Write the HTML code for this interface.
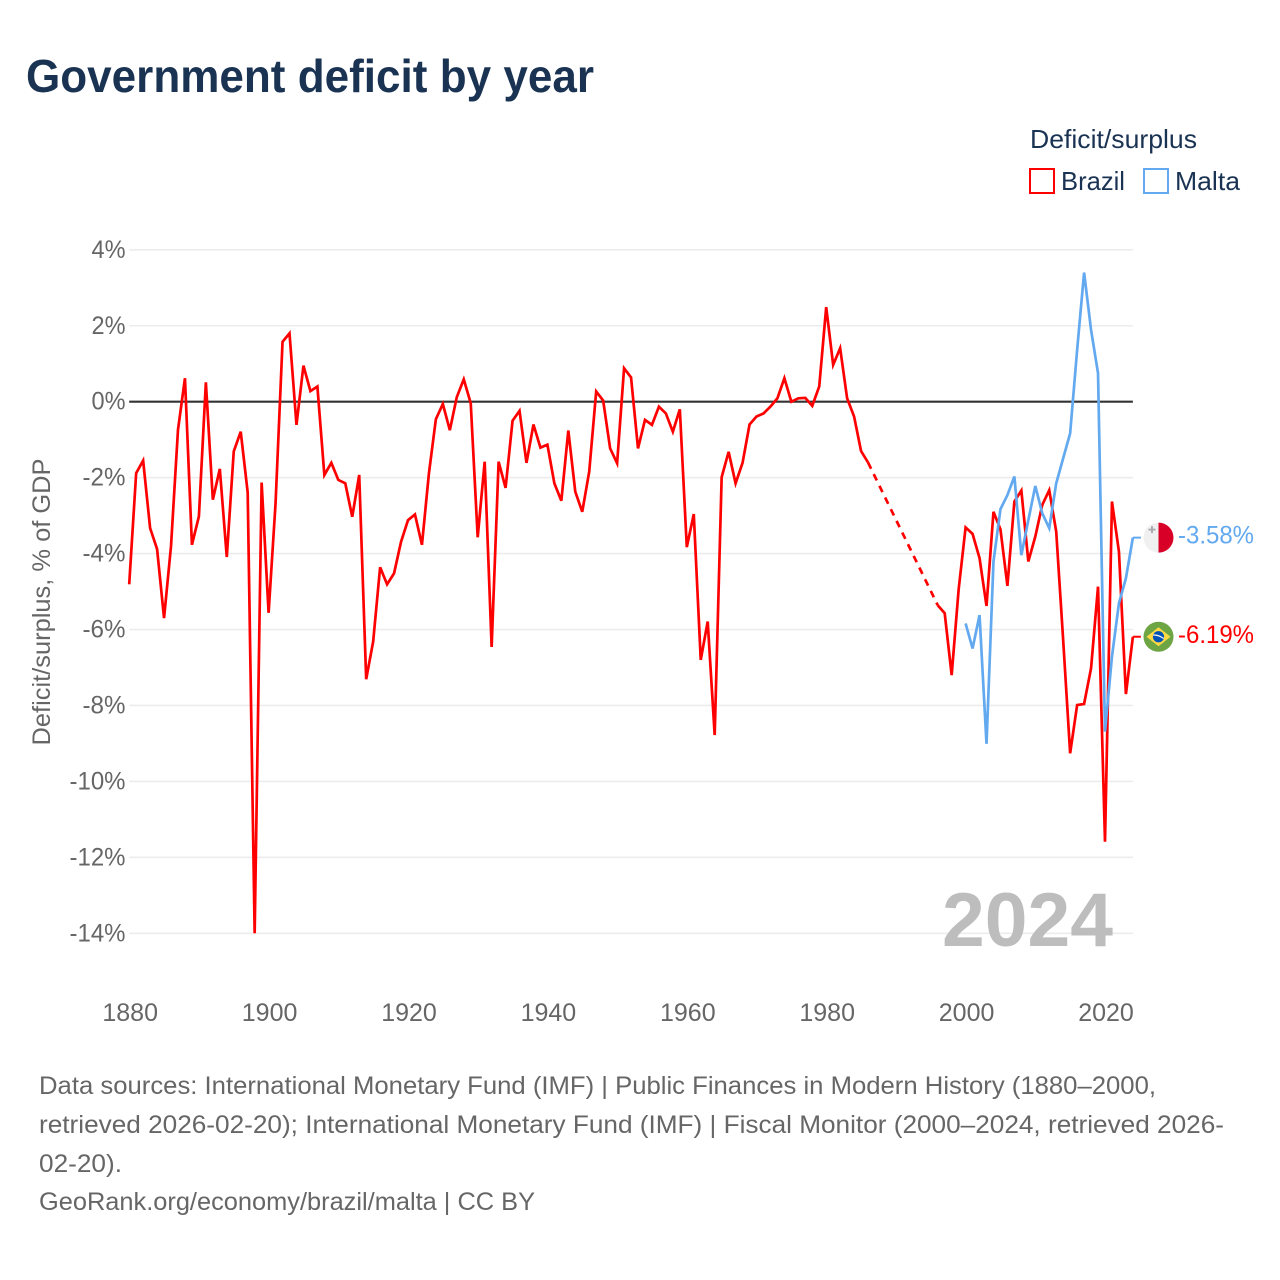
<!DOCTYPE html>
<html lang="en">
<head>
<meta charset="utf-8">
<title>Government deficit by year</title>
<style>
html,body{margin:0;padding:0;background:#fff;}
svg{display:block;}
text{font-family:"Liberation Sans",sans-serif;}
</style>
</head>
<body>
<svg id="chart" xmlns="http://www.w3.org/2000/svg" width="1280" height="1280" viewBox="0 0 1280 1280">
  <rect x="0" y="0" width="1280" height="1280" fill="#ffffff"/>
  <text x="26" y="92" font-size="46" font-weight="700" fill="#1a3353" textLength="568" lengthAdjust="spacingAndGlyphs">Government deficit by year</text>

  <text x="1030" y="148" font-size="26" fill="#1a3353" textLength="167" lengthAdjust="spacingAndGlyphs">Deficit/surplus</text>
  <g>
    <rect x="1030" y="169" width="24" height="24" fill="none" stroke="#ff0000" stroke-width="2"/>
    <text x="1061" y="190" font-size="26" fill="#1a3353" textLength="64" lengthAdjust="spacingAndGlyphs">Brazil</text>
  </g>
  <g>
    <rect x="1144" y="169" width="24" height="24" fill="none" stroke="#62a9ef" stroke-width="2"/>
    <text x="1175" y="190" font-size="26" fill="#1a3353" textLength="65" lengthAdjust="spacingAndGlyphs">Malta</text>
  </g>

  <text transform="translate(50,602) rotate(-90)" text-anchor="middle" font-size="25" fill="#666666" textLength="287" lengthAdjust="spacingAndGlyphs">Deficit/surplus, % of GDP</text>

  <g id="grid"></g>
  <g id="yticks"></g>
  <g id="xticks"></g>

  <text x="1113" y="946" text-anchor="end" font-size="76" font-weight="700" fill="#bdbdbd" textLength="171" lengthAdjust="spacingAndGlyphs">2024</text>

  <g id="series"></g>
  <g id="labels"></g>

  <g font-size="25" fill="#666666">
    <text x="39" y="1094" textLength="1117" lengthAdjust="spacingAndGlyphs">Data sources: International Monetary Fund (IMF) | Public Finances in Modern History (1880–2000,</text>
    <text x="39" y="1133" textLength="1185" lengthAdjust="spacingAndGlyphs">retrieved 2026-02-20); International Monetary Fund (IMF) | Fiscal Monitor (2000–2024, retrieved 2026-</text>
    <text x="39" y="1172" textLength="83" lengthAdjust="spacingAndGlyphs">02-20).</text>
    <text x="39" y="1210" textLength="496" lengthAdjust="spacingAndGlyphs">GeoRank.org/economy/brazil/malta | CC BY</text>
  </g>
</svg>
<script>
const yTickValues = [4, 2, 0, -2, -4, -6, -8, -10, -12, -14];
const xTickYears = [1880, 1900, 1920, 1940, 1960, 1980, 2000, 2020];
const brazilFirstYear = 1880;
const maltaFirstYear = 2000;
const brazilValues = [
  -4.81, -1.88, -1.55, -3.33, -3.88, -5.70, -3.80, -0.74, 0.62, -3.77,
  -3.02, 0.51, -2.58, -1.77, -4.09, -1.31, -0.79, -2.39, -14.0, -2.13,
  -5.56, -2.67, 1.58, 1.80, -0.61, 0.95, 0.28, 0.40, -1.93, -1.61,
  -2.06, -2.15, -3.03, -1.93, -7.31, -6.32, -4.36, -4.81, -4.52, -3.69,
  -3.12, -2.97, -3.77, -1.89, -0.46, -0.06, -0.75, 0.12, 0.59, -0.04,
  -3.57, -1.58, -6.46, -1.58, -2.27, -0.50, -0.24, -1.61, -0.60, -1.21,
  -1.13, -2.15, -2.61, -0.76, -2.37, -2.90, -1.84, 0.27, 0.03, -1.23,
  -1.62, 0.88, 0.64, -1.23, -0.48, -0.61, -0.13, -0.31, -0.79, -0.20,
  -3.83, -2.96, -6.80, -5.79, -8.78, -1.99, -1.32, -2.15, -1.61, -0.60,
  -0.39, -0.31, -0.13, 0.09, 0.62, 0.0, 0.09, 0.10, -0.11, 0.40,
  2.49, 0.97, 1.41, 0.09, -0.39, -1.30, -1.60, null, null, null,
  null, null, null, null, null, null, -5.36, -5.57, -7.20, -4.95,
  -3.31, -3.48, -4.12, -5.38, -2.90, -3.36, -4.85, -2.63, -2.34, -4.21,
  -3.55, -2.72, -2.33, -3.42, -6.28, -9.26, -7.99, -7.96, -7.02, -4.87,
  -11.59, -2.63, -3.95, -7.70, -6.19
];
const maltaValues = [
  -5.84, -6.50, -5.62, -9.01, -4.21, -2.83, -2.46, -1.97, -4.04, -3.12,
  -2.22, -2.94, -3.33, -2.15, -1.49, -0.83, 1.36, 3.40, 1.89, 0.75,
  -8.69, -6.71, -5.31, -4.65, -3.58
];

const NS = 'http://www.w3.org/2000/svg';
const RED = '#ff0000';
const BLUE = '#62a9ef';
function xScale(year) { return 129.2 + (year - 1880) * 6.97; }
function yScale(value) { return 401.7 - value * 37.97; }
function make(tag) { return document.createElementNS(NS, tag); }

const grid = document.getElementById('grid');
const yticks = document.getElementById('yticks');
yTickValues.forEach(function (v) {
  const line = make('line');
  
  
  line.setAttribute('x1', xScale(1880));
  line.setAttribute('x2', xScale(2024));
  line.setAttribute('y1', yScale(v));
  line.setAttribute('y2', yScale(v));
  line.setAttribute('stroke', '#ececec');
  line.setAttribute('stroke-width', '1.6');
  grid.appendChild(line);

  const label = make('text');
  const tickText = v + '%';
  
  
  label.setAttribute('x', 125.5);
  label.setAttribute('y', yScale(v) + 8);
  label.setAttribute('text-anchor', 'end');
  label.setAttribute('font-size', '25');
  label.setAttribute('fill', '#666666');
  label.setAttribute('textLength', tickText.length === 2 ? '34' : tickText.length === 3 ? '43' : '56');
  label.setAttribute('lengthAdjust', 'spacingAndGlyphs');
  label.textContent = tickText;
  yticks.appendChild(label);
});

const xticks = document.getElementById('xticks');
xTickYears.forEach(function (year) {
  const label = make('text');
  
  
  label.setAttribute('x', xScale(year) + 1);
  label.setAttribute('y', 1021);
  label.setAttribute('text-anchor', 'middle');
  label.setAttribute('font-size', '25');
  label.setAttribute('fill', '#666666');
  label.textContent = String(year);
  xticks.appendChild(label);
});

const zero = make('line');


zero.setAttribute('x1', xScale(1880));
zero.setAttribute('x2', xScale(2024));
zero.setAttribute('y1', yScale(0));
zero.setAttribute('y2', yScale(0));
zero.setAttribute('stroke', '#333333');
zero.setAttribute('stroke-width', '2.2');
grid.appendChild(zero);

const seriesGroup = document.getElementById('series');

function buildPaths(values, firstYear) {
  let solid = '';
  let dashed = '';
  let last = null;
  let gap = false;
  values.forEach(function (v, i) {
    if (v === null) { gap = true; return; }
    const pt = xScale(firstYear + i).toFixed(2) + ' ' + yScale(v).toFixed(2);
    if (last === null) { solid += 'M' + pt; }
    else if (gap) { dashed += 'M' + last + 'L' + pt; solid += 'M' + pt; }
    else { solid += 'L' + pt; }
    last = pt;
    gap = false;
  });
  return { solid: solid, dashed: dashed, last: last };
}

function connector(values, firstYear) {
  const lastValue = values[values.length - 1];
  const lastYear = firstYear + values.length - 1;
  return 'M' + xScale(lastYear).toFixed(2) + ' ' + yScale(lastValue).toFixed(2) + 'H' + (xScale(lastYear) + 8).toFixed(2);
}

const brazilPaths = buildPaths(brazilValues, brazilFirstYear);
const maltaPaths = buildPaths(maltaValues, maltaFirstYear);

const brazilLine = make('path');


brazilLine.setAttribute('d', brazilPaths.solid);
brazilLine.setAttribute('fill', 'none');
brazilLine.setAttribute('stroke', RED);
brazilLine.setAttribute('stroke-width', '2.7');
brazilLine.setAttribute('stroke-linejoin', 'miter');
seriesGroup.appendChild(brazilLine);

const brazilGap = make('path');


brazilGap.setAttribute('d', brazilPaths.dashed);
brazilGap.setAttribute('fill', 'none');
brazilGap.setAttribute('stroke', RED);
brazilGap.setAttribute('stroke-width', '2.7');
brazilGap.setAttribute('stroke-dasharray', '7 6');
seriesGroup.appendChild(brazilGap);

const brazilConnector = make('path');


brazilConnector.setAttribute('d', connector(brazilValues, brazilFirstYear));
brazilConnector.setAttribute('fill', 'none');
brazilConnector.setAttribute('stroke', RED);
brazilConnector.setAttribute('stroke-width', '2');
seriesGroup.appendChild(brazilConnector);

const maltaLine = make('path');


maltaLine.setAttribute('d', maltaPaths.solid);
maltaLine.setAttribute('fill', 'none');
maltaLine.setAttribute('stroke', BLUE);
maltaLine.setAttribute('stroke-width', '2.7');
maltaLine.setAttribute('stroke-linejoin', 'miter');
seriesGroup.appendChild(maltaLine);

const maltaConnector = make('path');


maltaConnector.setAttribute('d', connector(maltaValues, maltaFirstYear));
maltaConnector.setAttribute('fill', 'none');
maltaConnector.setAttribute('stroke', BLUE);
maltaConnector.setAttribute('stroke-width', '2');
seriesGroup.appendChild(maltaConnector);

const labels = document.getElementById('labels');
const FLAG_X = 1158.5;
const LABEL_X = 1178;

const maltaEnd = maltaValues[maltaValues.length - 1];
const maltaY = yScale(maltaEnd);
const maltaFlag = make('g');


maltaFlag.setAttribute('transform', 'translate(' + FLAG_X + ',' + maltaY + ')');
maltaFlag.innerHTML =
  '<circle r="15" fill="#f0f0f0"/>' +
  '<path d="M0 -15A15 15 0 0 1 0 15Z" fill="#d80027"/>' +
  '<path d="M-7.5 -11.5h2v2.5h2.5v2h-2.5v2.5h-2v-2.5h-2.5v-2h2.5z" fill="#acabb1"/>';
labels.appendChild(maltaFlag);

const maltaLabel = make('text');


maltaLabel.setAttribute('x', LABEL_X);
maltaLabel.setAttribute('y', maltaY + 6);
maltaLabel.setAttribute('font-size', '25');
maltaLabel.setAttribute('fill', BLUE);
maltaLabel.setAttribute('textLength', '76');
maltaLabel.setAttribute('lengthAdjust', 'spacingAndGlyphs');
maltaLabel.textContent = maltaEnd.toFixed(2) + '%';
labels.appendChild(maltaLabel);

const brazilEnd = brazilValues[brazilValues.length - 1];
const brazilY = yScale(brazilEnd);
const brazilFlag = make('g');


brazilFlag.setAttribute('transform', 'translate(' + FLAG_X + ',' + brazilY + ')');
brazilFlag.innerHTML =
  '<circle r="15" fill="#6da544"/>' +
  '<path d="M0 -9.5L12 0L0 9.5L-12 0Z" fill="#ffda44"/>' +
  '<circle r="5.6" fill="#0052b4"/>' +
  '<path d="M-5.2 -1.6Q0 -2.2 5.2 1.8" fill="none" stroke="#f0f0f0" stroke-width="1.3"/>';
labels.appendChild(brazilFlag);

const brazilLabel = make('text');


brazilLabel.setAttribute('x', LABEL_X);
brazilLabel.setAttribute('y', brazilY + 6.5);
brazilLabel.setAttribute('font-size', '25');
brazilLabel.setAttribute('fill', RED);
brazilLabel.setAttribute('textLength', '76');
brazilLabel.setAttribute('lengthAdjust', 'spacingAndGlyphs');
brazilLabel.textContent = brazilEnd.toFixed(2) + '%';
labels.appendChild(brazilLabel);
</script>
</body>
</html>
